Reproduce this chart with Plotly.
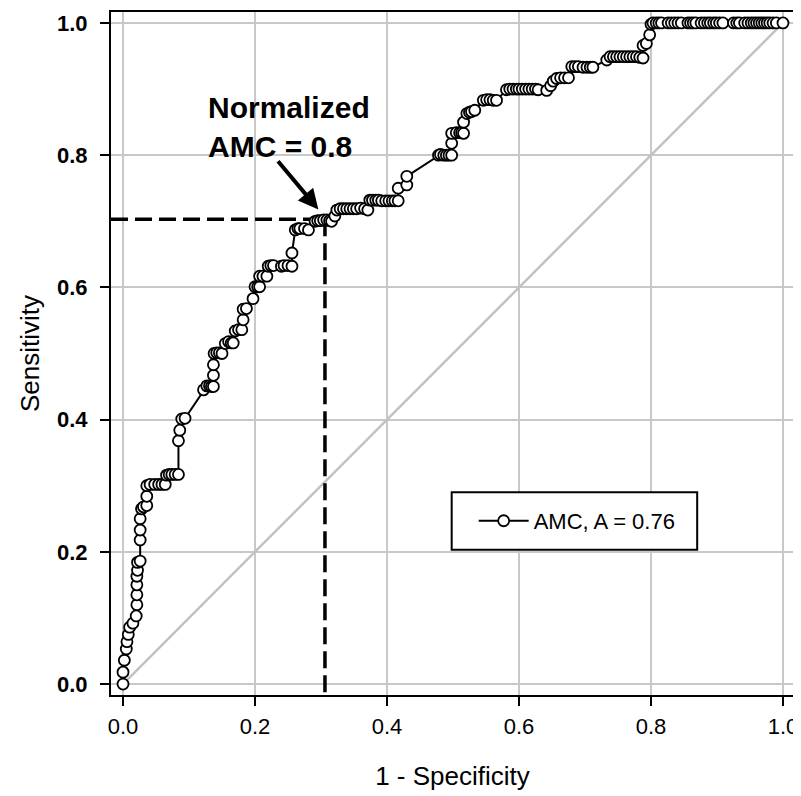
import plotly.graph_objects as go

# ROC curve points (1 - specificity, sensitivity)
FPR = [0.000, 0.000, 0.002, 0.005, 0.006, 0.008, 0.010, 0.015, 0.020, 0.021,
       0.021, 0.021, 0.021, 0.022, 0.022, 0.026, 0.026, 0.026, 0.026, 0.028,
       0.031, 0.036, 0.036, 0.036, 0.041, 0.048, 0.054, 0.059, 0.064, 0.066,
       0.070, 0.074, 0.079, 0.084, 0.084, 0.086, 0.089, 0.094,
       0.122, 0.127, 0.131, 0.134, 0.137, 0.137, 0.137, 0.138, 0.142, 0.146,
       0.150, 0.155, 0.160, 0.164, 0.167, 0.170, 0.175, 0.180, 0.182, 0.182,
       0.187, 0.197, 0.200, 0.204, 0.207, 0.207, 0.212, 0.218, 0.220, 0.224,
       0.228, 0.240, 0.244, 0.250, 0.256, 0.256, 0.261, 0.265, 0.268, 0.275,
       0.281, 0.291, 0.295, 0.299, 0.304, 0.309, 0.313, 0.316, 0.321, 0.324,
       0.329, 0.334, 0.339, 0.344, 0.349, 0.354, 0.360, 0.366, 0.371, 0.374,
       0.378, 0.383, 0.387, 0.392, 0.398, 0.403, 0.408, 0.412, 0.417, 0.417,
       0.430, 0.430,
       0.478, 0.481, 0.486, 0.490, 0.494, 0.498, 0.498, 0.498, 0.505, 0.510,
       0.513, 0.516, 0.516, 0.521, 0.525, 0.528, 0.533,
       0.546, 0.551, 0.556, 0.561, 0.566,
       0.581, 0.586, 0.591, 0.596, 0.600, 0.605, 0.610, 0.615, 0.620, 0.625,
       0.629, 0.642, 0.648, 0.652, 0.657, 0.663, 0.669, 0.675, 0.680, 0.685,
       0.690, 0.697, 0.703, 0.708, 0.712,
       0.733, 0.738, 0.743, 0.748, 0.753, 0.758, 0.763, 0.768, 0.773, 0.778,
       0.783, 0.788, 0.788, 0.793, 0.798, 0.800,
       0.803, 0.808, 0.812, 0.816, 0.826, 0.831, 0.836, 0.841, 0.846, 0.856,
       0.860, 0.864, 0.868, 0.876, 0.881, 0.886, 0.890, 0.895, 0.899, 0.904,
       0.909, 0.925, 0.930, 0.934, 0.942, 0.947, 0.952, 0.956, 0.960, 0.964,
       0.968, 0.972, 0.976, 0.980, 0.985, 0.990, 1.000]

TPR = [0.000, 0.018, 0.036, 0.053, 0.064, 0.075, 0.086, 0.092, 0.103, 0.120,
       0.135, 0.150, 0.163, 0.172, 0.184, 0.186, 0.218, 0.233, 0.250, 0.265,
       0.268, 0.270, 0.284, 0.300, 0.302, 0.302, 0.302, 0.302, 0.302, 0.316,
       0.317, 0.317, 0.317, 0.317, 0.368, 0.384, 0.401, 0.402,
       0.445, 0.451, 0.451, 0.450, 0.450, 0.467, 0.483, 0.500, 0.501, 0.501,
       0.500, 0.515, 0.518, 0.516, 0.516, 0.534, 0.536, 0.536, 0.551, 0.567,
       0.568, 0.583, 0.601, 0.601, 0.601, 0.617, 0.617, 0.617, 0.632, 0.633,
       0.633, 0.632, 0.633, 0.633, 0.632, 0.652, 0.687, 0.689, 0.689, 0.689,
       0.687, 0.700, 0.701, 0.701, 0.702, 0.702, 0.701, 0.700, 0.708, 0.717,
       0.719, 0.719, 0.719, 0.719, 0.719, 0.719, 0.720, 0.719, 0.717, 0.732,
       0.732, 0.732, 0.732, 0.731, 0.731, 0.731, 0.731, 0.731, 0.731, 0.750,
       0.755, 0.768,
       0.800, 0.801, 0.800, 0.800, 0.800, 0.800, 0.818, 0.833, 0.834, 0.834,
       0.834, 0.833, 0.850, 0.863, 0.865, 0.866, 0.868,
       0.883, 0.884, 0.884, 0.883, 0.883,
       0.899, 0.900, 0.900, 0.900, 0.900, 0.900, 0.900, 0.900, 0.900, 0.900,
       0.899, 0.898, 0.905, 0.912, 0.916, 0.917, 0.917, 0.917, 0.934, 0.934,
       0.934, 0.933, 0.933, 0.933, 0.933,
       0.944, 0.949, 0.949, 0.949, 0.949, 0.949, 0.949, 0.949, 0.949, 0.949,
       0.948, 0.947, 0.966, 0.969, 0.982, 0.998,
       1.000, 1.000, 1.000, 1.000, 1.000, 1.000, 1.000, 1.000, 1.000, 1.000,
       1.000, 1.000, 1.000, 1.000, 1.000, 1.000, 1.000, 1.000, 1.000, 1.000,
       1.000, 1.000, 1.000, 1.000, 1.000, 1.000, 1.000, 1.000, 1.000, 1.000,
       1.000, 1.000, 1.000, 1.000, 1.000, 1.000, 1.000]

CHANCE_X = [0.0, 1.0]
CHANCE_Y = [0.0, 1.0]

CUT_FPR = 0.306
CUT_TPR = 0.703

TICK_VALS = [0.0, 0.2, 0.4, 0.6, 0.8, 1.0]
TICK_TEXT = ["0.0", "0.2", "0.4", "0.6", "0.8", "1.0"]

SERIES_NAME = "AMC, A = 0.76"
NOTE_LINES = ["Normalized", "AMC = 0.8"]

X_RANGE = [-0.0182, 1.0167]
Y_RANGE = [-0.0166, 1.0166]

FONT = "Arial, 'Liberation Sans', sans-serif"

fig = go.Figure()

fig.add_trace(go.Scatter(x=CHANCE_X, y=CHANCE_Y, mode="lines",
                         line=dict(color="#c2c2c2", width=2.5),
                         showlegend=False, hoverinfo="skip"))

fig.add_trace(go.Scatter(x=[X_RANGE[0], CUT_FPR], y=[CUT_TPR, CUT_TPR], mode="lines",
                         line=dict(color="black", width=3.5, dash="17px,7px"),
                         showlegend=False, hoverinfo="skip", cliponaxis=False))
fig.add_trace(go.Scatter(x=[CUT_FPR, CUT_FPR], y=[CUT_TPR, Y_RANGE[0]], mode="lines",
                         line=dict(color="black", width=3.5, dash="17px,7px"),
                         showlegend=False, hoverinfo="skip", cliponaxis=False))

fig.add_trace(go.Scatter(x=FPR, y=TPR, mode="lines+markers", name=SERIES_NAME,
                         line=dict(color="black", width=2),
                         marker=dict(symbol="circle", size=11, color="white",
                                     line=dict(color="black", width=1.8))))

axis_common = dict(
    tickvals=TICK_VALS, ticktext=TICK_TEXT,
    ticks="outside", ticklen=9, tickwidth=2, tickcolor="black",
    showline=True, linewidth=2, linecolor="black", mirror=True,
    showgrid=True, gridcolor="#c8c8c8", gridwidth=2,
    zeroline=False, automargin=False,
)

fig.update_xaxes(range=X_RANGE, title=dict(text="1 - Specificity", standoff=28,
                 font=dict(family=FONT, size=26, color="black")),
                 tickfont=dict(family=FONT, size=22, color="black"),
                 ticklabelstandoff=2, **axis_common)
fig.update_yaxes(range=Y_RANGE, title=dict(text="Sensitivity", standoff=10,
                 font=dict(family=FONT, size=26, color="black")),
                 tickfont=dict(family=FONT, size=22, color="black", weight="bold"),
                 ticklabelstandoff=8, **axis_common)

fig.add_shape(type="rect", xref="x", yref="y", x0=0.498, x1=0.870, y0=0.203, y1=0.290,
              line=dict(color="black", width=2), fillcolor="white", layer="between")

fig.add_annotation(x=0.296, y=0.718, ax=0.233, ay=0.793, xref="x", yref="y",
                   axref="x", ayref="y", text="", showarrow=True,
                   arrowhead=2, arrowsize=1.0, arrowwidth=4, arrowcolor="black")
fig.add_annotation(x=0.125, y=0.842, xref="x", yref="y",
                   text="<br>".join("<b>" + s + "</b>" for s in NOTE_LINES),
                   showarrow=False, xanchor="left", yanchor="middle", align="left",
                   font=dict(family=FONT, size=30, color="black"))

# the page body has an 8px margin; offset the figure so the frame lands where the reference has it
fig.update_layout(
    width=793, height=788,
    margin=dict(l=103, r=7, t=4, b=101),
    paper_bgcolor="white", plot_bgcolor="white",
    font=dict(family=FONT, color="black"),
    showlegend=True,
    legend=dict(x=0.531, y=0.2548, xanchor="left", yanchor="middle",
                itemwidth=50,
                bgcolor="rgba(0,0,0,0)", borderwidth=0,
                font=dict(family=FONT, size=22, color="black")),
)

fig.write_html("out.html")
